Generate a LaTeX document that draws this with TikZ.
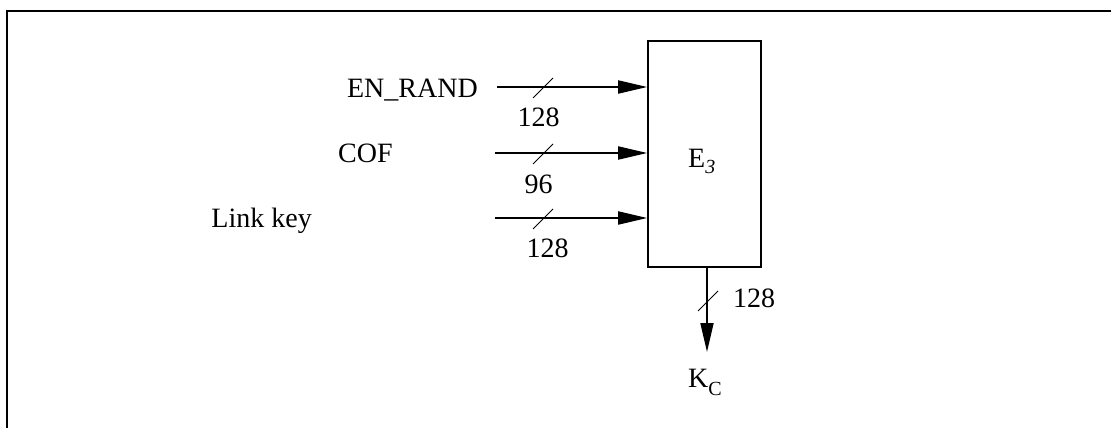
\documentclass[tikz,border=0pt]{standalone}
\usepackage{fontspec}
\setmainfont{Liberation Serif}
\usepackage{tikz}
\usetikzlibrary{arrows.meta,positioning,calc}
\definecolor{ink}{RGB}{0,0,0}
\tikzset{
  blk/.style={draw=ink,line width=1.6pt,minimum width=113pt,minimum height=226pt,inner sep=0pt},
  arr/.style={-{Triangle[length=29pt,width=13pt]},line width=1.8pt,ink},
  slash/.style={line width=0.9pt,ink},
  lbl/.style={font=\fontsize{28}{34}\selectfont,text=ink,inner sep=0pt},
  frame/.style={line width=2pt,ink},
}
\newcommand{\lowsub}[2]{\raisebox{#1}{\fontsize{20}{24}\selectfont #2}}

\begin{document}
\begin{tikzpicture}[x=1pt,y=-1pt]
  \useasboundingbox (0,0) rectangle (1111,428);
  \draw[frame] (7,428) -- (7,11) -- (1111,11);
  \node[blk] (e3) at (704.5,154) {};
  \node[lbl,anchor=base west] (e3t) at (688,167) {E\lowsub{-6pt}{\itshape 3}};
  % inputs
  \coordinate (in1) at (497,87);
  \coordinate (in2) at (495,153);
  \coordinate (in3) at (495,218);
  \foreach \a in {in1,in2,in3}
    \draw[arr] (\a) -- (\a -| e3.west);
  \node[lbl,anchor=base east] (rand) at (478,97) {EN\_RAND};
  \node[lbl,anchor=base west] (cof) at (338,162) {COF};
  \node[lbl,anchor=base east] (lk) at (312,227) {Link key};
  % bus widths
  \coordinate (s1) at (543,87);
  \coordinate (s2) at (543,153);
  \coordinate (s3) at (543,218);
  \coordinate (s4) at (708,300);
  \foreach \s in {s1,s2,s3,s4}
    \draw[slash] ($(\s)+(-10,11)$) -- ($(\s)+(10,-9)$);
  \node[lbl,anchor=base] (w1) at (538.5,126) {128};
  \node[lbl,anchor=base] (w2) at (538.5,193) {96};
  \node[lbl,anchor=base] (w3) at (547.5,257) {128};
  % output
  \coordinate (kc) at (707,352);
  \draw[arr] (e3.south -| kc) -- (kc);
  \node[lbl,anchor=base west] (w4) at (733,307) {128};
  \node[lbl,anchor=base west] (kct) at (688,387) {K\lowsub{-8pt}{C}};
\end{tikzpicture}
\end{document}
